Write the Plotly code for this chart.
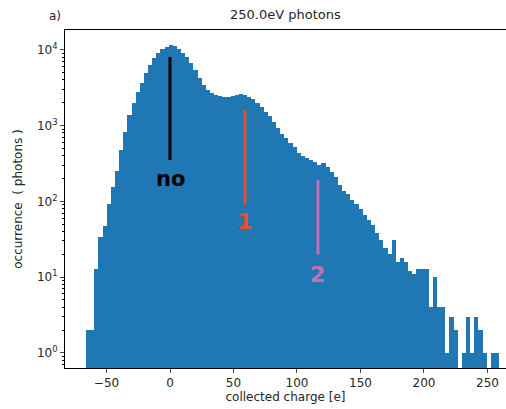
import math
import plotly.graph_objects as go

# histogram: 100 bins
bin_start = -66.1
bin_width = 3.252
counts = [2, 2, 13, 34, 47, 92, 155, 250, 475, 830,
          1380, 1960, 2800, 3630, 4900, 6300, 7700, 8950, 10200, 11000,
          11500, 11200, 10200, 9100, 8000, 6600, 5400, 4220, 3400, 2930,
          2680, 2520, 2440, 2370, 2370, 2440, 2520, 2600, 2520, 2370,
          2230, 2000, 1750, 1500, 1330, 1110, 930, 780, 690, 590,
          525, 440, 400, 375, 350, 330, 300, 320, 285, 245,
          210, 165, 137, 126, 105, 92, 80, 66, 57, 49,
          38, 31, 24, 20, 31, 16, 18, 16, 12, 11,
          13, 13, 13, 4, 10, 4, 4, 1, 3, 2,
          0, 1, 3, 1, 3, 2, 1, 0, 1, 1]

centers = [bin_start + bin_width * (i + 0.5) for i in range(len(counts))]
xs = [c for c, v in zip(centers, counts) if v > 0]
ys = [v for v in counts if v > 0]

x_ticks = [-50, 0, 50, 100, 150, 200, 250]
y_ticks = [1, 10, 100, 1000, 10000]
y_ticktext = ["10<sup>0</sup>", "10<sup>1</sup>", "10<sup>2</sup>", "10<sup>3</sup>", "10<sup>4</sup>"]

# marker lines: (x, y_top, y_bottom, color, label, label_y)
markers = [
    (0, 8000, 350, "#000000", "no", 200),
    (59, 1600, 90, "#e0502a", "1", 55),
    (116.5, 190, 20, "#c271b5", "2", 11),
]

fig = go.Figure()
fig.add_trace(go.Bar(x=xs, y=ys, width=bin_width, marker=dict(color="#1f77b4", line=dict(width=0)),
                     showlegend=False, hoverinfo="skip"))

for x, yt, yb, col, lab, ly in markers:
    fig.add_trace(go.Scatter(x=[x, x], y=[yt, yb], mode="lines", line=dict(color=col, width=3),
                             showlegend=False, hoverinfo="skip"))
    fig.add_annotation(x=x, y=math.log10(ly), yref="y", text="<b>%s</b>" % lab, showarrow=False,
                       font=dict(color=col, size=22 if lab != "no" else 21, family="DejaVu Sans"))

fig.add_annotation(x=0.5, y=1.0, xref="paper", yref="paper", yanchor="bottom", yshift=6,
                   text="250.0eV photons", showarrow=False,
                   font=dict(size=13, color="#262626"))
fig.add_annotation(x=-0.04, y=1.0, xref="paper", yref="paper", yanchor="bottom", yshift=5,
                   text="a)", showarrow=False, font=dict(size=12, color="#262626"))

fig.update_layout(
    width=506, height=409,
    margin=dict(l=65, r=0, t=30, b=41),
    paper_bgcolor="white", plot_bgcolor="white",
    bargap=0,
    font=dict(family="DejaVu Sans", size=12, color="#262626"),
    xaxis=dict(range=[-82.7, 264.6], tickvals=x_ticks, ticks="outside", ticklen=4,
               showline=True, linecolor="black", linewidth=1, mirror=True,
               showgrid=False, zeroline=False,
               title=dict(text="collected charge [e]", font=dict(size=12), standoff=2)),
    yaxis=dict(type="log", range=[-0.198, 4.26], tickvals=y_ticks, ticktext=y_ticktext,
               ticks="outside", ticklen=4, showline=True, linecolor="black", linewidth=1,
               showgrid=False, zeroline=False,
               minor=dict(ticks="outside", ticklen=2, tickcolor="black", dtick="D1", showgrid=False),
               title=dict(text="occurrence  ( photons )", font=dict(size=12), standoff=11)),
)

fig.write_html("out.html", config={"displayModeBar": False},
               post_script="document.body.style.margin='0';document.body.style.overflow='hidden';")
